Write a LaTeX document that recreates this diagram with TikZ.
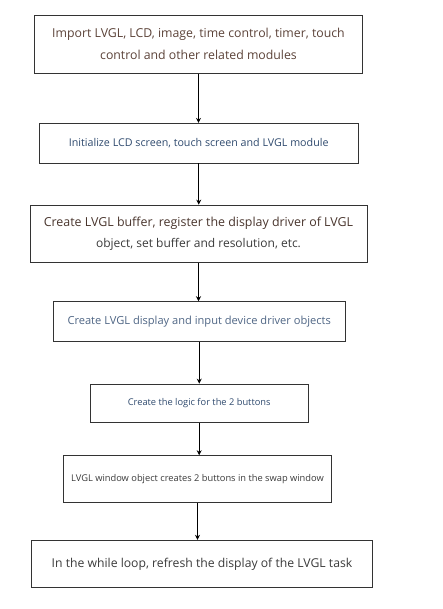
\documentclass[tikz,border=0pt]{standalone}
\usepackage{fontspec}
\setmainfont{Open Sans}
\usetikzlibrary{arrows.meta}
\definecolor{brn}{HTML}{5B4238}
\definecolor{dblue}{HTML}{2F4A6E}
\definecolor{dgray}{HTML}{3A3A3A}
\definecolor{bord}{HTML}{333333}
\tikzset{
  box/.style={draw=bord, line width=0.9pt, rectangle, inner sep=0pt, align=center},
  arr/.style={draw=black, line width=1pt, -{Stealth[length=5pt,width=5pt]}}
}
\begin{document}
\begin{tikzpicture}[x=1pt,y=-1pt]
\useasboundingbox (0,0) rectangle (443,609);
\node[box, minimum width=328.4pt, minimum height=58.3pt, font=\fontsize{12.3}{22}\selectfont, text=brn] (b1) at (198.5,44.2)
  {Import LVGL, LCD, image, time control, timer, touch\\control and other related modules};
\node[box, minimum width=319.3pt, minimum height=39.7pt, font=\fontsize{10.7}{12}\selectfont, text=dblue] (b2) at (198.7,143.2)
  {Initialize LCD screen, touch screen and LVGL module};
\node[box, minimum width=337pt, minimum height=57.3pt, align=center] (b3) at (198.5,233.7)
  {\fontsize{12.4}{22}\selectfont\color{brn!80!black}Create LVGL buffer, register the display driver of LVGL\\[7pt]
   \fontsize{12}{22}\selectfont\color{dgray}object, set buffer and resolution, etc.};
\node[box, minimum width=291.7pt, minimum height=40pt, font=\fontsize{11.1}{12}\selectfont, text=dblue!85!white] (b4) at (199.2,321.7)
  {Create LVGL display and input device driver objects};
\node[box, minimum width=218.3pt, minimum height=38.3pt, font=\fontsize{9.3}{10}\selectfont, text=dblue] (b5) at (199.2,403.2)
  {Create the logic for the 2 buttons};
\node[box, minimum width=268.4pt, minimum height=46.6pt, font=\fontsize{9.3}{10}\selectfont, text=dgray] (b6) at (197.5,479)
  {LVGL window object creates 2 buttons in the swap window};
\node[box, minimum width=341.4pt, minimum height=47pt, font=\fontsize{12.2}{12}\selectfont, text=dgray] (b7) at (202,563.8)
  {In the while loop, refresh the display of the LVGL task};
\draw[arr] (b1.south) -- (b1.south |- b2.north);
\draw[arr] (b2.south) -- (b2.south |- b3.north);
\draw[arr] (b3.south) -- (b3.south |- b4.north);
\draw[arr] (b4.south) -- (b4.south |- b5.north);
\draw[arr] (b5.south) -- (b5.south |- b6.north);
\draw[arr] (b6.south) -- (b6.south |- b7.north);
\end{tikzpicture}
\end{document}
